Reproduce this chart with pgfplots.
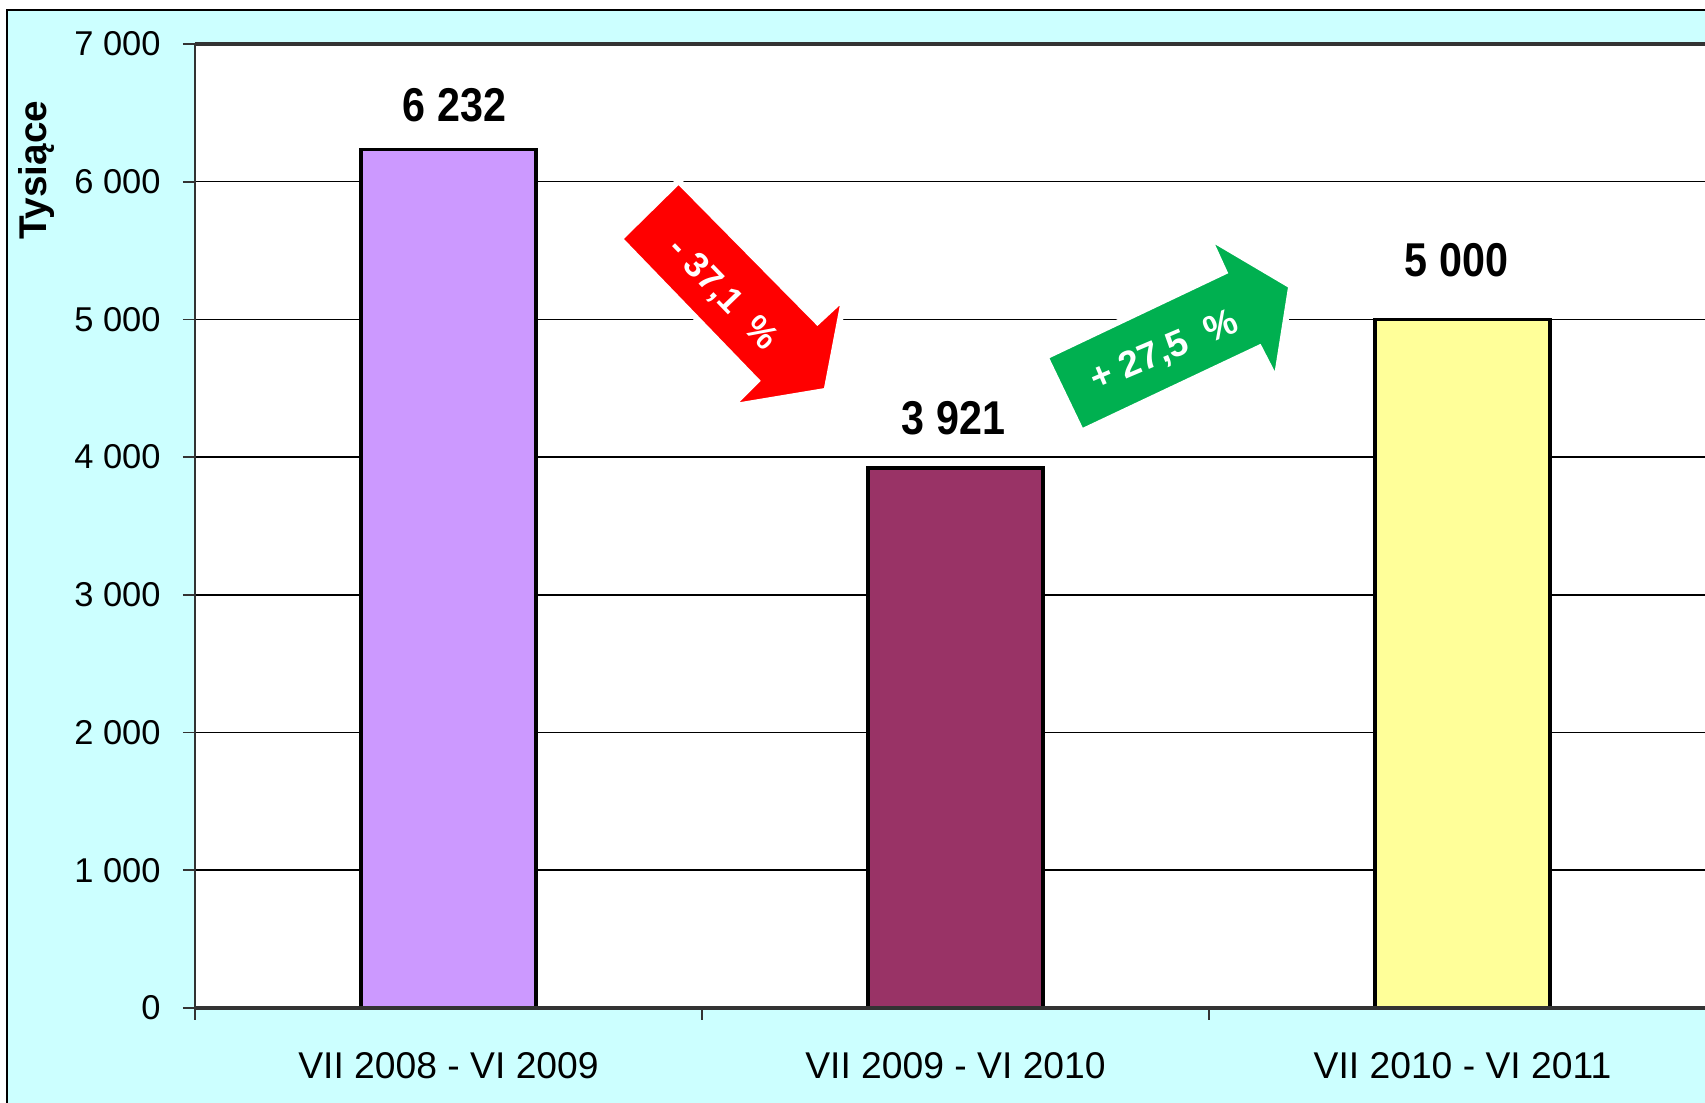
\documentclass[border=0pt]{standalone}
\usepackage{fontspec}
\setmainfont{Liberation Sans}
\newfontfamily\narrowsans[FakeStretch=0.87]{Liberation Sans}
\usepackage{pgfplots}
\pgfplotsset{compat=1.18}

\definecolor{bgcyan}{HTML}{CCFFFF}
\definecolor{lila}{HTML}{CC99FF}
\definecolor{plum}{HTML}{993366}
\definecolor{paleyel}{HTML}{FFFF99}
\definecolor{arrred}{HTML}{FF0000}
\definecolor{arrgrn}{HTML}{00B050}
\definecolor{axgray}{HTML}{333333}

\begin{document}
\begin{tikzpicture}
\useasboundingbox (0,0) rectangle (17.05,11.03);
\fill[white] (0,0) rectangle (17.05,11.03);
\fill[bgcyan] (0.07,0) rectangle (17.3,10.93);
\draw[black, line width=0.02cm] (0.07,-0.1) -- (0.07,10.93) -- (17.3,10.93);

\begin{axis}[
  at={(1.95cm,0.95cm)}, anchor=south west,
  scale only axis, width=15.21cm, height=9.64cm,
  xmin=-0.5, xmax=2.5, ymin=0, ymax=7000,
  clip=false,
  axis background/.style={fill=white},
  axis line style={draw=none},
  xtick={-0.5,0.5,1.5,2.5},
  x tick label as interval,
  xticklabels={VII 2008 - VI 2009, VII 2009 - VI 2010, VII 2010 - VI 2011},
  ytick={0,1000,...,7000},
  tick pos=left, tick align=outside,
  major tick length=0.12cm,
  tick style={axgray, line width=0.5pt},
  ymajorgrids, grid style={black, line width=0.45pt},
  /pgf/number format/1000 sep={\ },
  /pgf/number format/assume math mode=true,
  yticklabel style={font=\fontsize{9.8}{12}\selectfont, xshift=-0.1cm},
  xticklabel style={font=\fontsize{10.6}{13}\selectfont, yshift=-0.2cm},
  ylabel={Tysiące},
  ylabel style={font=\bfseries\fontsize{11}{13}\selectfont,
    at={(axis description cs:-0.104,0.869)}, anchor=center},
  ybar, bar width=1.75cm, bar shift=0pt,
  nodes near coords,
  nodes near coords style={font=\narrowsans\bfseries\fontsize{13.5}{16}\selectfont,
    anchor=center, text=black},
]
\addplot[fill=lila, draw=black, line width=0.9pt,
  nodes near coords style={yshift=0.45cm, xshift=0.06cm}] coordinates {(0,6232)};
\addplot[fill=plum, draw=black, line width=0.9pt,
  nodes near coords style={yshift=0.50cm, xshift=-0.02cm}] coordinates {(1,3921)};
\addplot[fill=paleyel, draw=black, line width=0.9pt,
  nodes near coords style={yshift=0.59cm, xshift=-0.06cm}] coordinates {(2,5000)};

\draw[axgray, line width=0.8pt] (rel axis cs:0,0) -- (rel axis cs:0,1);
\draw[black!80, line width=1pt] (rel axis cs:0,0) -- (rel axis cs:1,0);
\draw[axgray, line width=1.3pt] (rel axis cs:0,1) -- (rel axis cs:1,1);
\end{axis}

% change arrows, in pixel units of the reference
\begin{scope}[shift={(0cm,11.03cm)}, x=0.01cm, y=-0.01cm]
  \filldraw[fill=arrred, draw=white, line width=0.6mm]
    (679,181) -- (818,322) -- (845,297) -- (827,391) -- (731,407)
    -- (757,381) -- (620,239) -- cycle;
  \node[text=white, font=\bfseries\fontsize{10}{12}\selectfont, rotate=-46]
    at (723,295) {- 37,1\ \ \%};
  \filldraw[fill=arrgrn, draw=white, line width=0.6mm]
    (1082,432) -- (1046,357) -- (1225,272) -- (1209,237) -- (1292,286)
    -- (1277,381) -- (1260,348) -- cycle;
  \node[text=white, font=\bfseries\fontsize{10.5}{12}\selectfont, rotate=23]
    at (1165,352) {+ 27,5\ \ \%};
\end{scope}
\end{tikzpicture}
\end{document}
